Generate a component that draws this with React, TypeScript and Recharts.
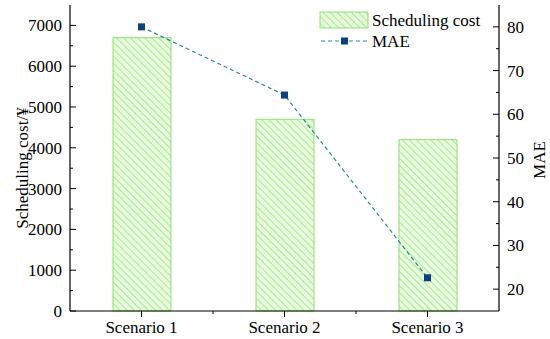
import React from "react";
import { ComposedChart, Bar, Line, XAxis, YAxis, Legend } from "recharts";

// categories & values
const scenarios = ["Scenario 1", "Scenario 2", "Scenario 3"];
const scenarioPos = [0.5, 1.5, 2.5];
const schedulingCost = [6700, 4700, 4200];
const maeValues = [80, 64.4, 22.6];

// axis ticks (major + minor)
const costTicks = [0, 500, 1000, 1500, 2000, 2500, 3000, 3500, 4000, 4500, 5000, 5500, 6000, 6500, 7000];
const maeTicks = [20, 25, 30, 35, 40, 45, 50, 55, 60, 65, 70, 75, 80];
const xTicks = [0.5, 1, 1.5, 2, 2.5];

const data = scenarios.map((name, i) => ({
  x: scenarioPos[i],
  name,
  cost: schedulingCost[i],
  mae: maeValues[i],
}));

const FONT = "Liberation Serif";
const FS = 17;

const T = (props: any) => (
  <text fontFamily={FONT} fontSize={FS} fill="#000" style={{ fontFamily: FONT }} {...props} />
);

const LeftTick = (props: any) => {
  const { x, y, payload } = props;
  const ax = x + 8;
  const major = payload.value % 1000 === 0;
  return (
    <g>
      <line x1={ax} x2={ax + (major ? 6 : 3)} y1={y} y2={y} stroke="#000" strokeWidth={1} />
      {major && (
        <T x={x} y={y} dy="0.35em" textAnchor="end">
          {payload.value}
        </T>
      )}
    </g>
  );
};

const RightTick = (props: any) => {
  const { x, y, payload } = props;
  const ax = x - 8;
  const major = payload.value % 10 === 0;
  return (
    <g>
      <line x1={ax} x2={ax - (major ? 6 : 3)} y1={y} y2={y} stroke="#000" strokeWidth={1} />
      {major && (
        <T x={x} y={y} dy="0.35em" textAnchor="start">
          {payload.value}
        </T>
      )}
    </g>
  );
};

const BottomTick = (props: any) => {
  const { x, y, payload } = props;
  const ay = y - 4;
  const idx = scenarioPos.indexOf(payload.value);
  const major = idx >= 0;
  return (
    <g>
      <line x1={x} x2={x} y1={ay} y2={ay + (major ? 6 : 3)} stroke="#000" strokeWidth={1} />
      {major && (
        <T x={x} y={ay + 22} textAnchor="middle">
          {scenarios[idx]}
        </T>
      )}
    </g>
  );
};

const TopTick = (props: any) => {
  const { x, y, payload } = props;
  const major = scenarioPos.includes(payload.value);
  return <line x1={x} x2={x} y1={y} y2={y + (major ? 6 : 3)} stroke="#000" strokeWidth={1} />;
};

const Hatch = ({ id }: { id: string }) => (
  <pattern id={id} patternUnits="userSpaceOnUse" width={5} height={5} patternTransform="rotate(-45)">
    <rect x={0} y={0} width={5} height={5} fill="#e8fadf" />
    <line x1={0} y1={0} x2={0} y2={5} stroke="#9be47e" strokeWidth={1.6} />
  </pattern>
);

const LegendBox = () => (
  <svg width={180} height={48} style={{ display: "block" }}>
    <defs>
      <Hatch id="hatchLegend" />
    </defs>
    <rect x={2} y={4} width={48} height={16} fill="url(#hatchLegend)" stroke="#8fe070" />
    <T x={54} y={18}>
      Scheduling cost
    </T>
    <line x1={3} x2={50} y1={33} y2={33} stroke="#2b8c8c" strokeWidth={1.2} strokeDasharray="4 3" />
    <rect x={23} y={29.5} width={7} height={7} fill="#0d3f84" />
    <T x={54} y={39}>
      MAE
    </T>
  </svg>
);

export default function App() {
  return (
    <div
      style={{
        position: "absolute",
        left: 0,
        top: 0,
        width: 550,
        height: 339,
        background: "#fff",
        fontFamily: FONT,
      }}
    >
      <ComposedChart
        width={550}
        height={339}
        data={data}
        margin={{ top: 5, right: 0, bottom: 0, left: 0 }}
      >
        <defs>
          <Hatch id="hatchBar" />
        </defs>
        <XAxis
          dataKey="x"
          type="number"
          domain={[0, 3]}
          ticks={xTicks}
          interval={0}
          height={28}
          tickSize={0}
          tickMargin={4}
          tick={<BottomTick />}
          axisLine={{ stroke: "#000", strokeWidth: 1.2 }}
        />
        <XAxis
          xAxisId="top"
          orientation="top"
          type="number"
          domain={[0, 3]}
          ticks={xTicks}
          interval={0}
          height={0}
          tickSize={0}
          tickMargin={0}
          tick={<TopTick />}
          axisLine={{ stroke: "#000", strokeWidth: 1.2 }}
        />
        <YAxis
          yAxisId="left"
          domain={[0, 7500]}
          ticks={costTicks}
          interval={0}
          width={70}
          tickSize={0}
          tickMargin={8}
          tick={<LeftTick />}
          axisLine={{ stroke: "#000", strokeWidth: 1.2 }}
        />
        <YAxis
          yAxisId="right"
          orientation="right"
          domain={[15, 85]}
          ticks={maeTicks}
          interval={0}
          width={51}
          tickSize={0}
          tickMargin={8}
          tick={<RightTick />}
          axisLine={{ stroke: "#000", strokeWidth: 1.2 }}
        />
        <Legend
          layout="vertical"
          align="center"
          verticalAlign="middle"
          content={() => <LegendBox />}
          wrapperStyle={{ position: "absolute", left: 318, top: 8, width: 180, height: 48 }}
        />
        <Bar
          yAxisId="left"
          dataKey="cost"
          name="Scheduling cost"
          barSize={58}
          fill="url(#hatchBar)"
          stroke="#8fe070"
          strokeWidth={1}
          isAnimationActive={false}
        />
        <Line
          yAxisId="right"
          type="linear"
          dataKey="mae"
          name="MAE"
          stroke="#2b8c8c"
          strokeWidth={1.2}
          strokeDasharray="4 3"
          dot={(p: any) => (
            <rect key={p.index} x={p.cx - 3.5} y={p.cy - 3.5} width={7} height={7} fill="#0d3f84" />
          )}
          isAnimationActive={false}
        />
        <T transform="translate(22, 168) rotate(-90)" textAnchor="middle" dominantBaseline="central">
          Scheduling cost/¥
        </T>
        <T transform="translate(539, 160) rotate(-90)" textAnchor="middle" dominantBaseline="central">
          MAE
        </T>
      </ComposedChart>
    </div>
  );
}
